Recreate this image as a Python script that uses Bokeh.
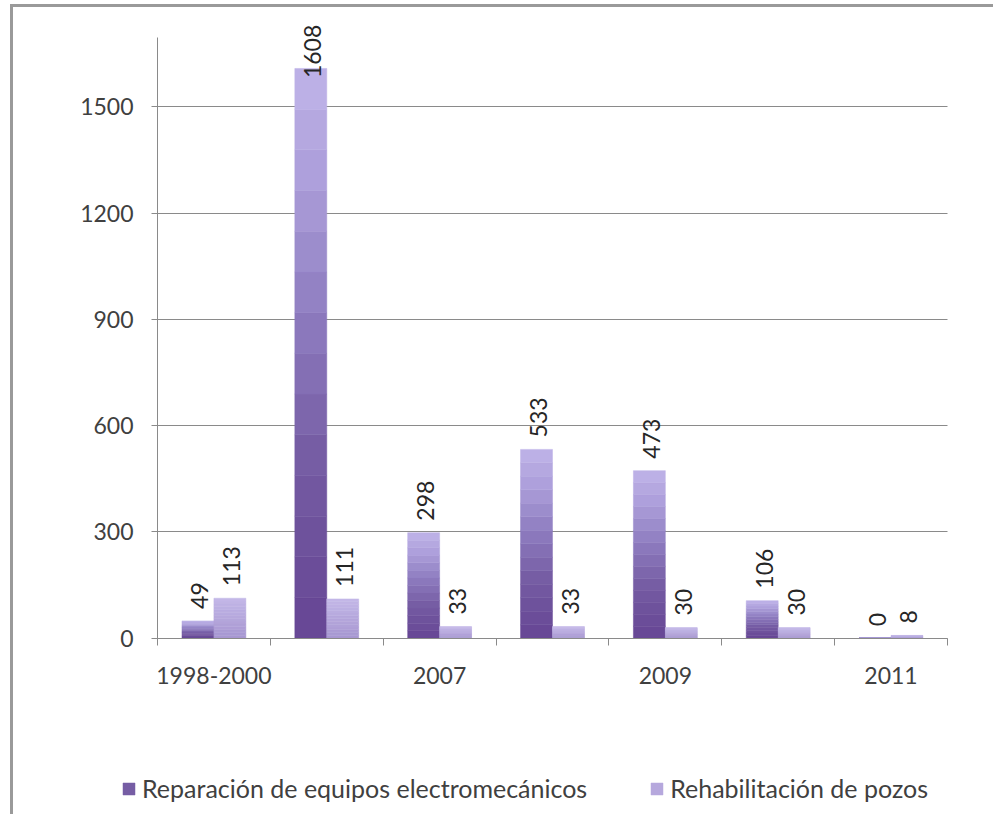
import numpy as np
from bokeh.plotting import figure
from bokeh.models import (Range1d, FixedTicker, Legend, LegendItem, ColumnDataSource)
from bokeh.core.properties import value
from bokeh.embed import file_html
from bokeh.resources import INLINE

# ---- data ----
categories = ["1998-2000", "2006", "2007", "2008", "2009", "2010", "2011"]
shown_labels = ["1998-2000", "", "2007", "", "2009", "", "2011"]
reparacion = [49, 1608, 298, 533, 473, 106, 0]
rehabilitacion = [113, 111, 33, 33, 30, 30, 8]
series_names = ["Reparación de equipos electromecánicos", "Rehabilitación de pozos"]
y_ticks = [0, 300, 600, 900, 1200, 1500]
y_axis_top = 1696
label_cap = 1547  # data labels are kept inside the chart area

FONT = "Lato"
TXT = "#404040"
GRID = "#8a8a8a"

n = len(categories)
# view window (the frame covers the whole chart area, axes sit at x=0 / y=0)
x_view = (-1.276, 7.408)
y_view = (-497.4, 1780)

p = figure(frame_width=980, frame_height=807, output_backend="svg", toolbar_location=None,
           x_range=Range1d(*x_view), y_range=Range1d(*y_view),
           min_border_left=0, min_border_right=0, min_border_top=0,
           min_border_bottom=0)
p.outline_line_color = None
p.background_fill_color = "white"
p.border_fill_color = "white"
p.styles = {"border-left": "3px solid #9a9a9a", "border-top": "3px solid #9a9a9a",
            "margin-left": "10px", "margin-top": "4px"}

# grids
p.xgrid.grid_line_color = None
p.ygrid.grid_line_color = GRID
p.ygrid.grid_line_width = 1
p.ygrid.cross_bounds = (0, n)

# y axis
p.yaxis.fixed_location = 0
p.yaxis.ticker = FixedTicker(ticks=y_ticks)
p.yaxis.bounds = (0, y_axis_top)
p.yaxis.axis_line_color = GRID
p.yaxis.major_tick_line_color = GRID
p.yaxis.major_tick_out = 6
p.yaxis.major_tick_in = 0
p.yaxis.minor_tick_line_color = None
p.yaxis.major_label_text_font = FONT
p.yaxis.major_label_text_font_size = "23px"
p.yaxis.major_label_text_color = TXT
p.yaxis.major_label_standoff = 18

# x axis: labels at centres, tick marks at boundaries
centers = [i + 0.5 for i in range(n)]
p.xaxis.fixed_location = 0
p.xaxis.bounds = (0, n)
p.xaxis.ticker = FixedTicker(ticks=centers, minor_ticks=list(range(n + 1)))
p.xaxis.major_label_overrides = {c: lab for c, lab in zip(centers, shown_labels)}
p.xaxis.axis_line_color = GRID
p.xaxis.major_tick_line_color = None
p.xaxis.major_tick_out = 0
p.xaxis.minor_tick_line_color = GRID
p.xaxis.minor_tick_out = 7
p.xaxis.minor_tick_in = 0
p.xaxis.major_label_text_font = FONT
p.xaxis.major_label_text_font_size = "23px"
p.xaxis.major_label_text_color = TXT
p.xaxis.major_label_standoff = 22

# bars with vertical gradient (bands)
w = 0.283
NB = 14
stops1 = [(0.0, (102, 70, 148)), (0.3, (116, 90, 162)), (0.55, (140, 122, 190)),
          (0.8, (172, 158, 218)), (1.0, (192, 180, 232))]
stops2 = [(0.0, (166, 150, 208)), (1.0, (196, 184, 232))]


def interp(stops, t):
    for (t0, c0), (t1, c1) in zip(stops[:-1], stops[1:]):
        if t <= t1:
            f = (t - t0) / (t1 - t0) if t1 > t0 else 0
            return tuple(int(round(a + (b - a) * f)) for a, b in zip(c0, c1))
    return stops[-1][1]


def hexc(c):
    return "#%02x%02x%02x" % c


def draw_series(vals, offset, stops):
    vals = np.array(vals, dtype=float)
    xs = np.array(centers) + offset
    rends = []
    for k in range(NB):
        bottom = vals * k / NB
        top = vals * (k + 1) / NB
        col = hexc(interp(stops, (k + 0.5) / NB))
        rends.append(p.vbar(x=xs, width=w, bottom=bottom, top=top, fill_color=col,
                            line_color=col, line_width=0.5))
    src = ColumnDataSource(dict(x=xs, y=np.minimum(vals, label_cap),
                                t=[str(int(v)) for v in vals]))
    p.text(x="x", y="y", text="t", source=src, angle=np.pi / 2,
           text_align="left", text_baseline="middle", y_offset=-12, x_offset=2,
           text_font=value(FONT), text_font_size="23px", text_color="#262626")
    return rends


r1 = draw_series(reparacion, -w / 2, stops1)
r2 = draw_series(rehabilitacion, w / 2, stops2)

# legend
legend = Legend(items=[LegendItem(label=series_names[0], renderers=[r1[NB // 3]]),
                       LegendItem(label=series_names[1], renderers=[r2[NB // 2]])],
                orientation="horizontal", location=(108, 11))
legend.label_text_font = FONT
legend.label_text_font_size = "25px"
legend.label_text_color = TXT
legend.glyph_width = 15
legend.glyph_height = 15
legend.label_standoff = 6
legend.spacing = 62
legend.border_line_color = None
legend.background_fill_alpha = 0
legend.padding = 4
legend.margin = 0
p.add_layout(legend, "center")

open("out.html", "w").write(file_html(p, INLINE))
